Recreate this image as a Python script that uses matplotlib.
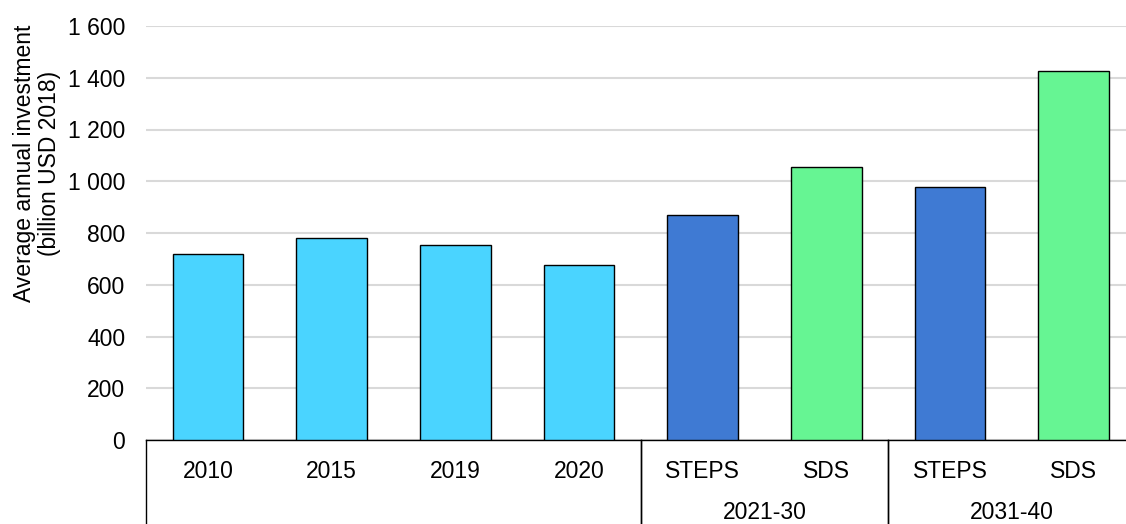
import matplotlib
matplotlib.use("Agg")
import matplotlib.pyplot as plt
from matplotlib.ticker import FuncFormatter

plt.rcParams['font.family'] = ['Liberation Sans', 'DejaVu Sans']

# Average annual investment, billion USD 2018
labels = ["2010", "2015", "2019", "2020", "STEPS", "SDS", "STEPS", "SDS"]
values = [718, 782, 755, 678, 871, 1054, 977, 1427]
colors = ["#4AD4FF", "#4AD4FF", "#4AD4FF", "#4AD4FF",
          "#3F7AD3", "#66F593", "#3F7AD3", "#66F593"]

# outer category groups: (name, first bar, last bar)
groups = [("", 0, 3), ("2021-30", 4, 5), ("2031-40", 6, 7)]

fs = 16.5

fig = plt.figure(figsize=(11.26, 5.24), dpi=100)
ax = fig.add_axes([146 / 1126, 84 / 524, 989.6 / 1126, 414 / 524])

x = range(len(values))
ax.bar(x, values, width=0.57, color=colors, edgecolor="black", linewidth=1, zorder=3)

ax.set_xlim(-0.5, len(values) - 0.5)
ax.set_ylim(0, 1600)
ax.set_yticks(range(0, 1601, 200))
ax.yaxis.set_major_formatter(FuncFormatter(lambda v, p: f"{int(v):,}".replace(",", " ")))
ax.tick_params(axis="y", length=0, pad=15, labelsize=fs)
ax.set_xticks([])
ax.grid(axis="y", color="#d9d9d9", linewidth=1.5, zorder=0)

for s in ["left", "right", "top"]:
    ax.spines[s].set_visible(False)
ax.spines["bottom"].set_linewidth(1)

# two-level category axis below the bars
trans = ax.get_xaxis_transform()
for i, lab in enumerate(labels):
    ax.text(i, -0.077, lab, transform=trans, ha="center", va="center", fontsize=fs)

for name, a, b in groups:
    ax.text((a + b) / 2, -0.176, name, transform=trans, ha="center", va="center", fontsize=fs)
    for edge in (a - 0.5, b + 0.5):
        ax.plot([edge, edge], [0, -0.25], transform=trans, color="black",
                linewidth=1, clip_on=False)

fig.text(37 / 1126, 1 - 163 / 524, "Average annual investment\n(billion USD 2018)",
         rotation=90, ha="center", va="center", fontsize=fs, linespacing=1.1)

fig.savefig("out.png", dpi=100)
